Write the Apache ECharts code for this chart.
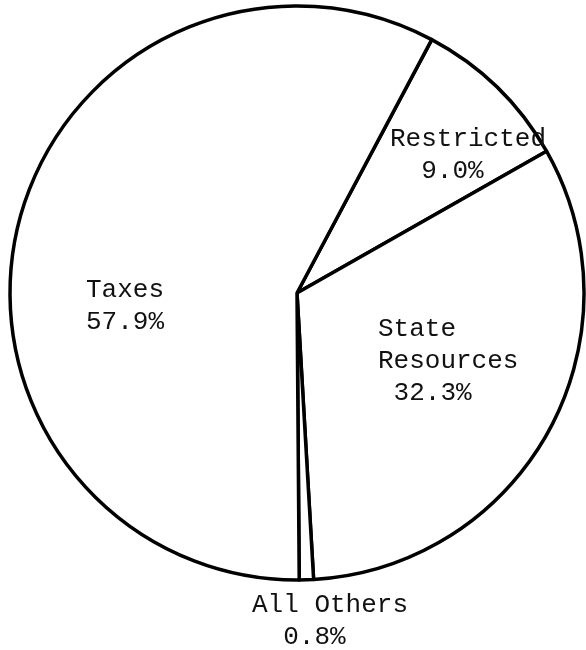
<!DOCTYPE html>
<html>
<head>
    <meta charset="UTF-8">
    <title>pie</title>
    <script src="https://cdn.jsdelivr.net/npm/echarts@6/dist/echarts.min.js"></script>
    <style>
        *{margin:0;padding:0}
        html, body{
            width:100%;
            height:100%;
            background:#fff;
        }
        #main{
            width:586px;
            height:650px;
        }
    </style>
</head>
<body>
    <div id="main"></div>
    <script type="text/javascript">
        // clockwise from the top
        var names = ['Restricted', 'State Resources', 'All Others', 'Taxes'];
        var values = [9.0, 32.3, 0.8, 57.9];
        var labelTexts = [
            'Restricted\n  9.0%',
            'State\nResources\n 32.3%',
            'All Others\n  0.8%',
            'Taxes\n57.9%'
        ];
        // where each label block sits (left edge, vertical middle)
        var labelSpots = [
            [390, 155],
            [378, 361],
            [252, 621],
            [86, 306]
        ];

        var myChart = echarts.init(document.getElementById('main'));
        var option = {
            backgroundColor: '#fff',
            animation: false,
            series: [
                {
                    type: 'pie',
                    center: [297, 293],
                    radius: 287,
                    startAngle: 62,
                    clockwise: true,
                    avoidLabelOverlap: false,
                    itemStyle: {
                        color: '#fff',
                        borderColor: '#000',
                        borderWidth: 3.5
                    },
                    emphasis: {disabled: true},
                    label: {
                        show: true,
                        position: 'inside',
                        formatter: function (p) {
                            return labelTexts[p.dataIndex];
                        },
                        fontFamily: 'Liberation Mono',
                        fontSize: 26,
                        lineHeight: 32,
                        color: '#111',
                        align: 'left'
                    },
                    labelLine: {show: false},
                    labelLayout: function (p) {
                        var s = labelSpots[p.dataIndex];
                        return {
                            x: s[0],
                            y: s[1],
                            align: 'left',
                            verticalAlign: 'middle'
                        };
                    },
                    data: names.map(function (n, i) {
                        return {name: n, value: values[i]};
                    })
                }
            ]
        };
        myChart.setOption(option);
    </script>
</body>
</html>
